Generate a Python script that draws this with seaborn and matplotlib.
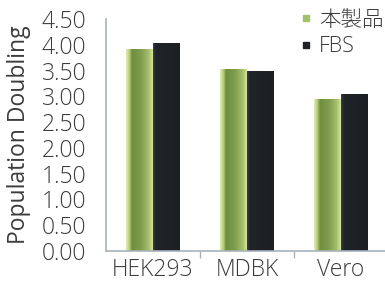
import numpy as np
import pandas as pd
import seaborn as sns
import matplotlib.pyplot as plt
from matplotlib.colors import LinearSegmentedColormap
from matplotlib.lines import Line2D

cells = ["HEK293", "MDBK", "Vero"]
product_vals = [3.91, 3.53, 2.95]
fbs_vals = [4.03, 3.49, 3.04]
series = ["本製品", "FBS"]
y_ticks = [0.0, 0.5, 1.0, 1.5, 2.0, 2.5, 3.0, 3.5, 4.0, 4.5]

sns.set_style("white")
plt.rcParams["font.family"] = ["Open Sans", "Noto Sans CJK JP", "DejaVu Sans"]
plt.rcParams["font.weight"] = "light"
text_color = "#3c3c3c"
axis_color = "#a8b2bc"
fs = 16.5

df = pd.DataFrame({
    "cell": cells * 2,
    "value": product_vals + fbs_vals,
    "series": [series[0]] * 3 + [series[1]] * 3,
})

fig = plt.figure(figsize=(3.85, 2.84), dpi=100)
ax = fig.add_axes([0.275, 0.116, 0.733, 0.817])

sns.barplot(data=df, x="cell", y="value", hue="series",
            palette=["#7e9c4c", "#1f2328"], width=0.57, ax=ax,
            legend=False, linewidth=0, saturation=1)

# shading on the bars
green_cmap = LinearSegmentedColormap.from_list(
    "g", [(0, "#e2ecb4"), (0.12, "#b6cc7a"), (0.22, "#6e8e3d"),
          (0.55, "#7f9d4e"), (0.85, "#a5bf6c"), (1, "#d5e39c")])
black_cmap = LinearSegmentedColormap.from_list(
    "k", [(0, "#3a3e42"), (0.1, "#202428"), (1, "#1c2024")])
grad = np.linspace(0, 1, 64).reshape(1, -1)
n = len(cells)
for i, patch in enumerate(ax.patches[:2 * n]):
    x0, y0 = patch.get_x(), patch.get_y()
    w, h = patch.get_width(), patch.get_height()
    cmap = green_cmap if i < n else black_cmap
    im = ax.imshow(grad, cmap=cmap, aspect="auto",
                   extent=[x0, x0 + w, y0, y0 + h], zorder=patch.get_zorder() + 0.1)
    im.set_clip_path(patch)

ax.set_xlim(-0.5, 2.5)
ax.set_ylim(0, 4.5)
ax.set_yticks(y_ticks)
ax.set_yticklabels([f"{v:.2f}" for v in y_ticks])
ax.set_xticks([0.5, 1.5], minor=True)
ax.tick_params(axis="x", which="major", length=0, labelsize=fs,
               labelcolor=text_color, pad=5)
ax.tick_params(axis="x", which="minor", length=5, width=1, color=axis_color,
               direction="out", bottom=True)
ax.tick_params(axis="y", length=0, labelsize=fs, labelcolor=text_color, pad=14)
ax.set_xlabel("")
ax.set_ylabel("Population Doubling", fontsize=fs, color=text_color, labelpad=8)

for s in ["top", "right"]:
    ax.spines[s].set_visible(False)
for s in ["left", "bottom"]:
    ax.spines[s].set_color(axis_color)
    ax.spines[s].set_linewidth(1.2)

handles = [
    Line2D([], [], marker="s", linestyle="", markersize=5,
           markerfacecolor="#a5c06a", markeredgecolor="#a5c06a"),
    Line2D([], [], marker="s", linestyle="", markersize=5,
           markerfacecolor="#1f2328", markeredgecolor="#1f2328"),
]
fig.legend(handles, series, loc="upper left", bbox_to_anchor=(0.758, 0.995),
           frameon=False, fontsize=15.5, handlelength=0.5, handletextpad=0.35,
           labelspacing=0.25, labelcolor=text_color, borderaxespad=0)

fig.savefig("out.png", dpi=100)
